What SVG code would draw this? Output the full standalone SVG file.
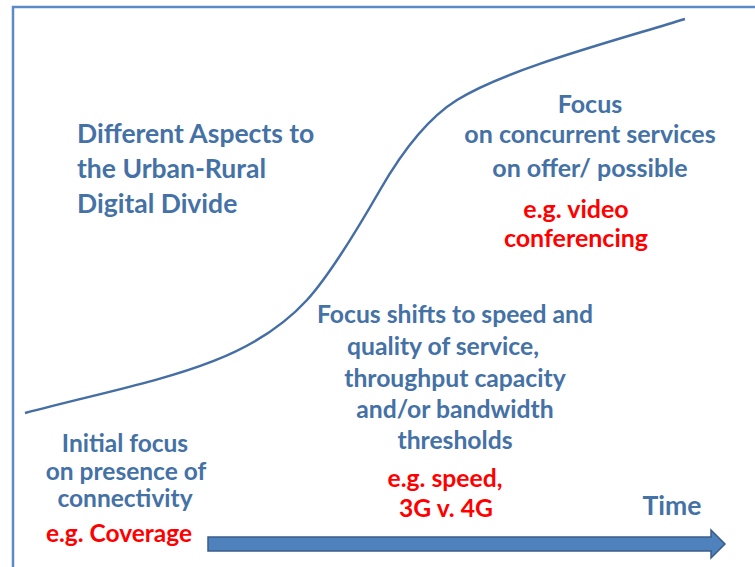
<svg xmlns="http://www.w3.org/2000/svg" width="755" height="567" viewBox="0 0 755 567">
<style>
.b{font-family:Lato,"Open Sans","Liberation Sans",sans-serif;font-weight:bold;fill:#4471a6}
.r{font-family:Lato,"Open Sans","Liberation Sans",sans-serif;font-weight:bold;fill:#ff0000}
.m{text-anchor:middle}
</style>
<rect width="755" height="567" fill="#ffffff"/>
<path d="M13,580 V7 H770" fill="none" stroke="#5b8ac6" stroke-width="2.5"/>
<g id="connectors">
<path id="curve" d="M25,413 C150,380 245,368 307,300 C332,272.5 360,224.8 380,190 C402,151.7 427,118.6 457,100 C507,69 610,42 685,19" fill="none" stroke="#456ea4" stroke-width="2.5"/>
<path id="time-arrow" d="M208,537 H711 V530 L725,544 L711,558 V551 H208 Z" fill="#4f81bd" stroke="#385d8a" stroke-width="1.5"/>
</g>
<g id="title">
<text class="b" font-size="26.5"><tspan x="77" y="143">Different Aspects to</tspan><tspan x="77" y="178">the Urban-Rural</tspan><tspan x="77" y="213">Digital Divide</tspan></text>
</g>
<g id="stage3">
<text class="b m" font-size="25"><tspan x="590" y="113">Focus</tspan><tspan x="590" y="143">on concurrent services</tspan><tspan x="590" y="177">on offer/ possible</tspan></text>
<text class="r m" font-size="25"><tspan x="576" y="218">e.g. video</tspan><tspan x="576" y="247">conferencing</tspan></text>
</g>
<g id="stage2">
<text class="b m" font-size="24.7"><tspan x="455" y="323">Focus shifts to speed and</tspan><tspan x="443" y="355">quality of service,</tspan><tspan x="455" y="387">throughput capacity</tspan><tspan x="455" y="418">and/or bandwidth</tspan><tspan x="455" y="449">thresholds</tspan></text>
<text class="r m" font-size="24.7"><tspan x="445" y="487">e.g. speed,</tspan><tspan x="446" y="517">3G v. 4G</tspan></text>
</g>
<g id="stage1">
<text class="b m" font-size="24.5"><tspan x="125" y="452">Initial focus</tspan><tspan x="126" y="480">on presence of</tspan><tspan x="125" y="507">connectivity</tspan></text>
<text class="r m" font-size="24.5"><tspan x="119" y="542">e.g. Coverage</tspan></text>
</g>
<g id="time">
<text class="b m" font-size="26.5" x="672" y="515">Time</text>
</g>
</svg>
